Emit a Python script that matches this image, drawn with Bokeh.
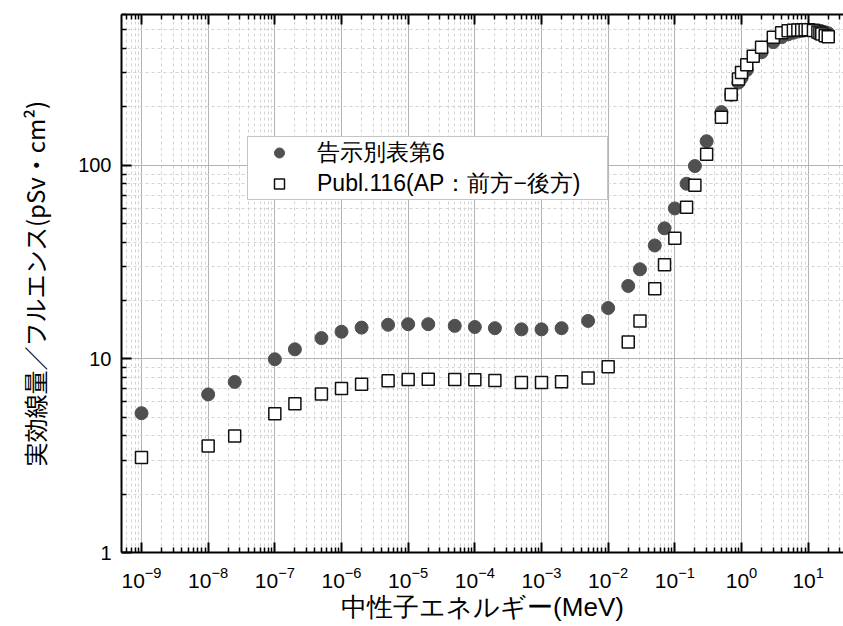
from bokeh.plotting import figure
from bokeh.models import LogAxis, FixedTicker, Legend, LegendItem, Range1d
from bokeh.embed import file_html
from bokeh.resources import INLINE

# 告示別表第6 (energy in MeV, effective dose per fluence in pSv·cm²)
energy_kokuji = [1e-9, 1e-8, 2.5e-8, 1e-7, 2e-7, 5e-7, 1e-6, 2e-6, 5e-6, 1e-5, 2e-5, 5e-5,
                 1e-4, 2e-4, 5e-4, 1e-3, 2e-3, 5e-3, 1e-2, 2e-2, 3e-2, 5e-2, 7e-2, 0.1,
                 0.15, 0.2, 0.3, 0.5, 0.7, 0.9, 1.0, 1.2, 2.0, 3.0, 4.0, 5.0, 6.0, 7.0,
                 8.0, 9.0, 10.0, 12.0, 14.0, 15.0, 16.0, 18.0, 20.0]
dose_kokuji = [5.24, 6.55, 7.60, 9.95, 11.2, 12.8, 13.8, 14.5, 15.0, 15.1, 15.1, 14.8,
               14.6, 14.4, 14.2, 14.2, 14.4, 15.7, 18.3, 23.8, 29.0, 38.5, 47.2, 59.8,
               80.2, 99.0, 133, 188, 231, 267, 282, 310, 383, 432, 458, 474, 483, 490,
               494, 497, 499, 499, 496, 494, 491, 486, 480]

# Publ.116 (AP)
energy_p116 = [1e-9, 1e-8, 2.5e-8, 1e-7, 2e-7, 5e-7, 1e-6, 2e-6, 5e-6, 1e-5, 2e-5, 5e-5,
               1e-4, 2e-4, 5e-4, 1e-3, 2e-3, 5e-3, 1e-2, 2e-2, 3e-2, 5e-2, 7e-2, 0.1,
               0.15, 0.2, 0.3, 0.5, 0.7, 0.9, 1.0, 1.2, 1.5, 2.0, 3.0, 4.0, 5.0, 6.0,
               7.0, 8.0, 9.0, 10.0, 12.0, 14.0, 15.0, 16.0, 18.0, 20.0]
dose_p116 = [3.09, 3.55, 4.00, 5.20, 5.87, 6.59, 7.03, 7.39, 7.71, 7.82, 7.84, 7.82,
             7.79, 7.73, 7.54, 7.54, 7.61, 7.97, 9.11, 12.2, 15.7, 23.0, 30.6, 41.9,
             60.6, 78.8, 114, 177, 232, 279, 301, 330, 365, 407, 458, 483, 494, 498,
             499, 499, 500, 500, 496, 487, 481, 476, 466, 460]

x_major_ticks = [1e-9, 1e-8, 1e-7, 1e-6, 1e-5, 1e-4, 1e-3, 1e-2, 1e-1, 1e0, 1e1]
y_major_ticks = [1, 10, 100]
y_tick_labels = ["1", "10", "100"]

x_minor_ticks = [k * 10.0 ** e for e in range(-10, 2) for k in range(2, 10)]
y_minor_ticks = [k * 10.0 ** e for e in range(0, 3) for k in range(2, 10)]

label_series1 = "告示別表第6"
label_series2 = "Publ.116(AP：前方−後方)"
x_title = "中性子エネルギー(MeV)"
y_title = "実効線量／フルエンス(pSv・cm²)"

JP = "Noto Sans CJK JP"
NUM = "Liberation Sans"

p = figure(width=843, height=626, x_axis_type="log", y_axis_type="log",
           x_range=Range1d(10 ** -9.30, 10 ** 1.53), y_range=Range1d(1, 600),
           output_backend="svg", toolbar_location=None,
           min_border_left=121, min_border_right=0, min_border_top=14, min_border_bottom=74)
p.outline_line_color = None
p.background_fill_color = "white"

xt = FixedTicker(ticks=x_major_ticks, minor_ticks=x_minor_ticks)
yt = FixedTicker(ticks=y_major_ticks, minor_ticks=y_minor_ticks)

for ax in (p.xaxis[0], p.yaxis[0]):
    ax.axis_line_width = 2
    ax.axis_line_color = "black"
    ax.major_tick_in = 10
    ax.major_tick_out = 0
    ax.minor_tick_in = 5
    ax.minor_tick_out = 0
    ax.major_tick_line_width = 2
    ax.minor_tick_line_width = 1.5
    ax.major_tick_line_color = "black"
    ax.minor_tick_line_color = "black"
    ax.major_label_text_font = NUM
    ax.major_label_text_color = "black"
    ax.axis_label_text_font_style = "normal"
    ax.axis_label_text_color = "black"

p.xaxis[0].ticker = xt
p.yaxis[0].ticker = yt
p.yaxis[0].major_label_overrides = dict(zip(y_major_ticks, y_tick_labels))
p.xaxis[0].major_label_text_font_size = "21px"
p.yaxis[0].major_label_text_font_size = "20px"
p.xaxis[0].major_label_standoff = 14
p.yaxis[0].major_label_standoff = 10
p.xaxis[0].axis_label = x_title
p.xaxis[0].axis_label_text_font = NUM
p.xaxis[0].axis_label_text_font_size = "26px"
p.xaxis[0].axis_label_standoff = 1
p.yaxis[0].axis_label = y_title
p.yaxis[0].axis_label_text_font = JP
p.yaxis[0].axis_label_text_font_size = "24px"
p.yaxis[0].axis_label_standoff = 23

top = LogAxis(ticker=xt, axis_line_width=2, axis_line_color="black",
              major_tick_in=10, major_tick_out=0, minor_tick_in=5, minor_tick_out=0,
              major_tick_line_width=2, minor_tick_line_width=1.5,
              major_label_text_font_size="1px", major_label_text_alpha=0.0,
              major_label_standoff=0)
p.add_layout(top, "above")

p.xgrid.ticker = xt
p.ygrid.ticker = yt
for g in (p.xgrid[0], p.ygrid[0]):
    g.grid_line_color = "#b3b3b3"
    g.grid_line_width = 1
    g.minor_grid_line_color = "#d3d3d3"
    g.minor_grid_line_dash = "3 3"
    g.minor_grid_line_width = 1

r1 = p.scatter(energy_kokuji, dose_kokuji, marker="circle", size=13,
               fill_color="#505050", line_color="#505050")
r2 = p.scatter(energy_p116, dose_p116, marker="square", size=12,
               fill_color="white", line_color="#111111", line_width=1.5)

legend = Legend(items=[LegendItem(label=label_series1, renderers=[r1]),
                       LegendItem(label=label_series2, renderers=[r2])],
                location=(126, 352), padding=0, spacing=0, margin=0,
                glyph_width=62, glyph_height=25, label_standoff=7, label_height=20,
                label_width=290,
                label_text_font=NUM, label_text_font_size="23px", label_text_color="black",
                border_line_color="#8c8c8c", border_line_width=1.5,
                background_fill_color="white", background_fill_alpha=1.0)
p.add_layout(legend, "center")

open("out.html", "w").write(file_html(p, INLINE))
